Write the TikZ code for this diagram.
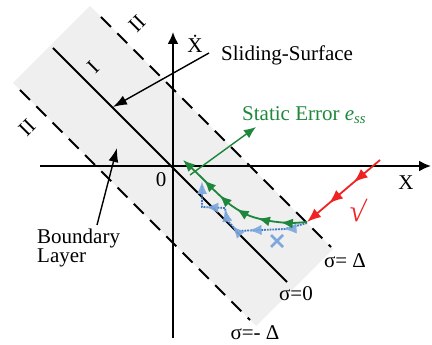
\documentclass[tikz,border=0pt]{standalone}
\usepackage{fontspec}
\setmainfont{Liberation Serif}
\usetikzlibrary{arrows.meta,decorations.markings}
\definecolor{bandgray}{RGB}{239,239,239}
\definecolor{gr}{RGB}{30,135,60}
\definecolor{rd}{RGB}{240,35,35}
\definecolor{bl}{RGB}{60,120,200}
\definecolor{lblue}{RGB}{125,168,222}
\tikzset{
  lbl/.style={font=\fontsize{21}{22}\selectfont, inner sep=0pt},
  axis/.style={line width=2pt, -{Latex[length=12pt,width=11pt]}},
  surf/.style={line width=2pt},
  bound/.style={line width=2pt, dash pattern=on 14pt off 9pt},
  pointer/.style={line width=1.4pt, -{Latex[length=14pt,width=10pt]}},
  gtip/.tip={Latex[length=12pt,width=10pt]},
  rtip/.tip={Latex[length=14pt,width=11pt]},
  btip/.tip={Latex[length=12pt,width=10pt]},
}
\begin{document}
\begin{tikzpicture}[x=1pt,y=-1pt]
\useasboundingbox (0,0) rectangle (432,345);
% boundary layer band
\fill[bandgray] (90,6) -- (333,249) -- (256,326) -- (13,83) -- cycle;
% lines of the band
\coordinate (s0a) at (53,48);  \coordinate (s0b) at (287,282);
\coordinate (spa) at (101,17); \coordinate (spb) at (331,247);
\coordinate (sma) at (20,90);  \coordinate (smb) at (250,320);
\draw[surf] (s0a) -- (s0b);
\draw[bound] (spa) -- (spb);
\draw[bound] (sma) -- (smb);
% axes
\coordinate (xa) at (40,166); \coordinate (xb) at (431,166);
\coordinate (ya) at (173,338); \coordinate (yb) at (173,32);
\draw[axis] (xa) -- (xb);
\draw[axis] (ya) -- (yb);
\node[lbl] (xl) at (406,183) {X};
\node[lbl] (yl) at (195,44) {\.X};
\node[lbl] (zero) at (161,180) {0};
% region labels
\node[lbl, rotate=45] (r1) at (93,67) {I};
\node[lbl, rotate=45] (r2a) at (137,24) {II};
\node[lbl, rotate=45] (r2b) at (27,128) {II};
% sliding surface label
\node[lbl, anchor=west] (sstxt) at (221,55) {Sliding-Surface};
\coordinate (ss0) at (209,53); \coordinate (ss1) at (113,107);
\draw[pointer] (ss0) -- (ss1);
% boundary layer label
\node[lbl, anchor=north west, align=left, font=\fontsize{21}{19}\selectfont] (bltxt) at (37,229) {Boundary\\Layer};
\coordinate (bl0) at (97,225); \coordinate (bl1) at (117,148);
\draw[pointer] (bl0) -- (bl1);
% sigma labels
\node[lbl] (sp) at (345,261) {σ= Δ};
\node[lbl] (s0) at (296,294) {σ=0};
\node[lbl] (sm) at (255,333) {σ=- Δ};
% static error
\node[lbl, text=gr, anchor=west] (setxt) at (242,115) {Static Error \textit{e}\textsubscript{\textit{ss}}};
\coordinate (se0) at (190,175); \coordinate (se1) at (256,127);
\draw[gr, line width=1.4pt, -{gtip}] (se0) -- (se1);
% red approach
\coordinate (ra) at (380,160); \coordinate (rb) at (307,222);
\draw[rd, line width=1.8pt, -{rtip}, postaction={decorate},
  decoration={markings, mark=at position 0.36 with {\arrow{rtip}}, mark=at position 0.70 with {\arrow{rtip}}}]
  (ra) -- (rb);
\node[lbl, text=rd, font=\fontsize{30}{30}\bfseries\selectfont, rotate=-8] (chk) at (358,210) {√};
% blue chattering path
\draw[bl, line width=1.8pt, densely dotted] (307,223) -- (285,229) -- (237,231) -- (227,220) -- (225,208) -- (202,207) -- (202,186);
\path[postaction={decorate}, decoration={markings,
   mark=at position 0.16 with {\arrow[lblue, opacity=0.9]{btip}},
   mark=at position 0.40 with {\arrow[lblue, opacity=0.9]{btip}},
   mark=at position 0.53 with {\arrow[lblue, opacity=0.9]{btip}},
   mark=at position 0.66 with {\arrow[lblue, opacity=0.9]{btip}},
   mark=at position 0.80 with {\arrow[lblue, opacity=0.9]{btip}},
   mark=at position 1.0 with {\arrow[lblue, opacity=0.9]{btip}}}]
   (307,223) -- (285,229) -- (237,231) -- (227,220) -- (225,208) -- (202,207) -- (202,182);
\draw[lblue, line width=2.5pt] (271,235) -- (283,247) (271,247) -- (283,235);
% green converging trajectory
\draw[gr, line width=1.8pt, -{gtip}, postaction={decorate},
  decoration={markings,
   mark=at position 0.18 with {\arrow{gtip}},
   mark=at position 0.34 with {\arrow{gtip}},
   mark=at position 0.50 with {\arrow{gtip}},
   mark=at position 0.65 with {\arrow{gtip}},
   mark=at position 0.80 with {\arrow{gtip}}}]
  plot[smooth] coordinates {(307,222) (290,223) (270,221) (250,216) (232,206) (215,191) (200,176) (183,160)};
\end{tikzpicture}
\end{document}
